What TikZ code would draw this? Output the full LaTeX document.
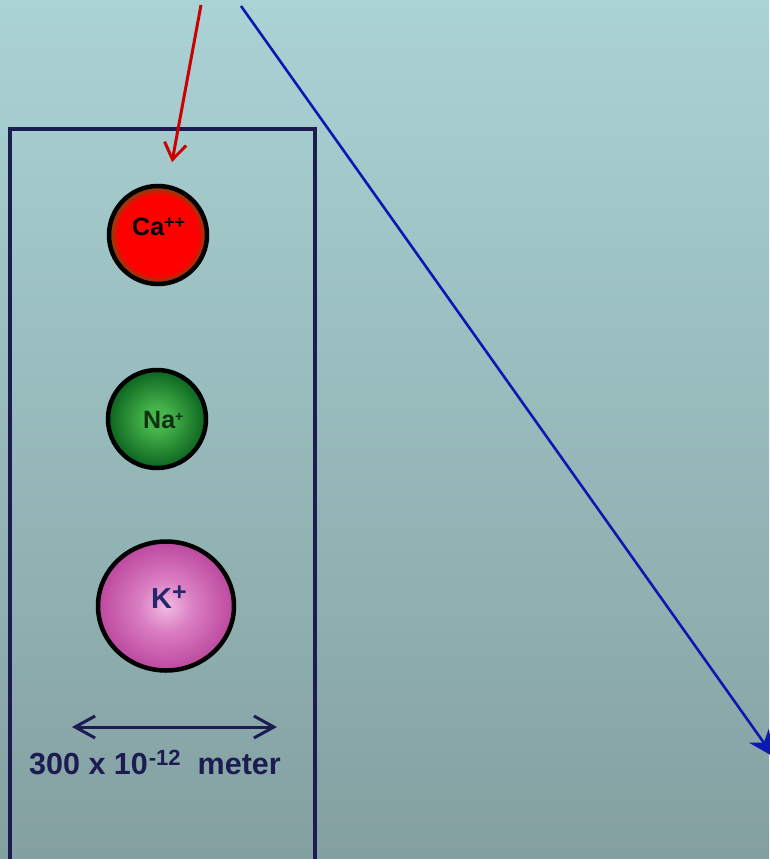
\documentclass[tikz,border=0pt]{standalone}
\usepackage{fontspec}
\setmainfont{Liberation Sans}
\usetikzlibrary{arrows.meta,shapes.geometric}
\definecolor{bgtop}{RGB}{170,211,213}
\definecolor{bgbot}{RGB}{132,160,161}
\definecolor{navy}{RGB}{28,28,82}
\definecolor{arrowred}{RGB}{204,0,0}
\definecolor{arrowblue}{RGB}{12,24,176}
\definecolor{cared}{RGB}{255,0,0}
\definecolor{caedge}{RGB}{110,80,10}
\definecolor{nalight}{RGB}{70,180,75}
\definecolor{nadark}{RGB}{12,100,32}
\definecolor{klight}{RGB}{242,188,226}
\definecolor{kmid}{RGB}{218,126,194}
\definecolor{kdark}{RGB}{188,72,158}
\definecolor{natext}{RGB}{12,50,15}
\definecolor{ktext}{RGB}{36,40,110}
\pgfdeclareradialshading{cashade}{\pgfpointorigin}{color(0bp)=(cared); color(20.5bp)=(cared); color(25bp)=(caedge); color(50bp)=(caedge)}
\pgfdeclareradialshading{nashade}{\pgfpointorigin}{color(0bp)=(nalight); color(6bp)=(nalight); color(25bp)=(nadark); color(50bp)=(nadark)}
\pgfdeclareradialshading{kshade}{\pgfpointorigin}{color(0bp)=(klight); color(10bp)=(kmid); color(25bp)=(kdark); color(50bp)=(kdark)}
\begin{document}
\begin{tikzpicture}[x=1pt, y=-1pt,
    ion/.style={draw=black, line width=4.5pt, inner sep=0pt},
    ionlabel/.style={anchor=base west, inner sep=0pt, font=\bfseries},
    barb/.style={{Straight Barb[length=20pt,width=22pt]}-{Straight Barb[length=20pt,width=22pt]}}]
  % 背景
  \shade[top color=bgtop, bottom color=bgbot] (0,0) rectangle (769,859);
  \useasboundingbox (0,0) rectangle (769,859);
  % 枠
  \draw[navy, line width=3.5pt] (10,129) rectangle (315,875);
  % 矢印
  \coordinate (redtail) at (201,5);
  \coordinate (redhead) at (172,162);
  \coordinate (bluetail) at (241,6);
  \coordinate (bluehead) at (774,757);
  \draw[arrowred, line width=3pt, -{Straight Barb[length=16pt,width=22pt]}] (redtail) -- (redhead);
  \draw[arrowblue, line width=2.6pt, -{Stealth[length=26pt,width=24pt]}] (bluetail) -- (bluehead);
  % イオン
  \node[ion, circle, minimum size=98pt, shading=cashade] (ca) at (158,235) {};
  \node[ion, circle, minimum size=98pt, shading=nashade] (na) at (157,419) {};
  \node[ion, ellipse, minimum width=136pt, minimum height=129pt, shading=kshade] (k) at (166,606) {};
  \node[ionlabel, text=black, font=\bfseries\fontsize{25}{30}\selectfont] (catext) at (132,235)
    {Ca\raisebox{6.5pt}{\fontsize{18}{18}\selectfont ++}};
  \node[ionlabel, text=natext, font=\bfseries\fontsize{25}{30}\selectfont] (natext) at (143,428)
    {Na\raisebox{6.5pt}{\fontsize{14}{14}\selectfont +}};
  \node[ionlabel, text=ktext, font=\bfseries\fontsize{29}{34}\selectfont] (ktext) at (151,608)
    {K\raisebox{7.5pt}{\fontsize{25}{25}\selectfont +}};
  % 大きさ
  \coordinate (barl) at (72,727);
  \coordinate (barr) at (277,727);
  \draw[barb, navy, line width=3pt] (barl) -- (barr);
  \node[ionlabel, text=navy, font=\bfseries\fontsize{30.5}{36}\selectfont] (size) at (29,774)
    {300 x 10\hspace{1pt}\raisebox{9pt}{\fontsize{22}{22}\selectfont -12}\hspace{17pt}meter};
\end{tikzpicture}
\end{document}
